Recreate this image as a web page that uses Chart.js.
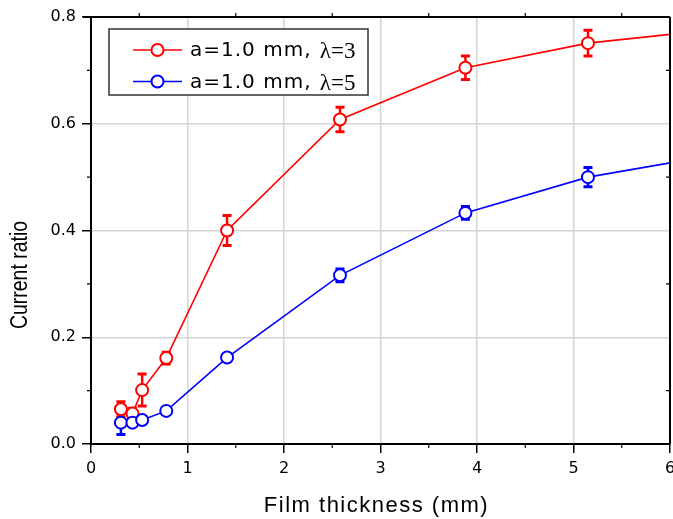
<!DOCTYPE html>
<html><head><meta charset="utf-8">
<script src="https://cdn.jsdelivr.net/npm/chart.js@4/dist/chart.umd.min.js"></script>
<style>html,body{margin:0;padding:0;background:#fff;}#wrap{width:673px;height:519px;}</style>
</head><body><div id="wrap"><canvas id="c" width="673" height="519"></canvas></div>
<script>
// ---- data ----
const thickness = [0.31, 0.43, 0.53, 0.78, 1.41, 2.58, 3.88, 5.15, 6.45];
const ratioLambda3 = [0.065, 0.057, 0.101, 0.161, 0.400, 0.608, 0.705, 0.751, 0.776];
const errLambda3   = [0.014, 0.010, 0.030, 0.011, 0.028, 0.023, 0.022, 0.024, 0];
const ratioLambda5 = [0.040, 0.040, 0.045, 0.062, 0.162, 0.316, 0.433, 0.500, 0.541];
const errLambda5   = [0.022, 0.006, 0.006, 0.006, 0.007, 0.012, 0.012, 0.018, 0];
const seriesLabels = ['a=1.0 mm, λ=3', 'a=1.0 mm, λ=5'];
const seriesColors = ['#ff0000', '#0000ff'];
const xTickValues = [0, 1, 2, 3, 4, 5, 6];
const yTickValues = [0, 0.2, 0.4, 0.6, 0.8];
const xTitle = 'Film thickness (mm)';
const yTitle = 'Current ratio';

function pts(xs, ys, es) { return xs.map((x, i) => ({x: x, y: ys[i], e: es[i]})); }

const errorBarPlugin = {
  id: 'errorBars',
  beforeDatasetsDraw(chart) {
    const {ctx, scales: {x, y}} = chart;
    chart.data.datasets.forEach((ds) => {
      ctx.save();
      ctx.strokeStyle = ds.borderColor;
      ds.data.forEach(p => {
        if (!p.e || p.x > x.max) return;
        const px = x.getPixelForValue(p.x);
        const yt = y.getPixelForValue(p.y + p.e);
        const yb = y.getPixelForValue(p.y - p.e);
        ctx.lineWidth = 2.5;
        ctx.beginPath(); ctx.moveTo(px, yt); ctx.lineTo(px, yb); ctx.stroke();
        ctx.lineWidth = 3;
        ctx.beginPath();
        ctx.moveTo(px - 4.5, yt); ctx.lineTo(px + 4.5, yt);
        ctx.moveTo(px - 4.5, yb); ctx.lineTo(px + 4.5, yb);
        ctx.stroke();
      });
      ctx.restore();
    });
  }
};

const framePlugin = {
  id: 'frame',
  beforeDraw(chart) {
    const ys = chart.scales.y;
    if (ys && !ys._patched) {
      const orig = ys.drawTitle.bind(ys);
      ys.drawTitle = function () {
        const c = this.ctx, mid = (this.top + this.bottom) / 2;
        c.save(); c.translate(0, 275); c.scale(1, 0.845); c.translate(0, -mid); orig(); c.restore();
      };
      ys._patched = true;
    }
    const xs = chart.scales.x;
    if (xs && !xs._patched) {
      const origx = xs.drawTitle.bind(xs);
      xs.drawTitle = function () {
        const c = this.ctx; c.save(); c.translate(-4, 0);
        if ('letterSpacing' in c) c.letterSpacing = '1.5px';
        origx(); c.restore();
      };
      xs._patched = true;
    }
  },
  afterDatasetsDraw(chart) {
    const {ctx, chartArea: a, scales: {x, y}} = chart;
    ctx.save();
    ctx.strokeStyle = '#000';
    ctx.lineWidth = 2;
    ctx.beginPath();
    ctx.moveTo(a.left - 8, a.top); ctx.lineTo(a.right, a.top);
    ctx.moveTo(a.right, a.top); ctx.lineTo(a.right, a.bottom);
    ctx.stroke();
    ctx.lineWidth = 1.2;
    ctx.beginPath();
    for (let v = 0.5; v < 6; v += 1) {
      const px = x.getPixelForValue(v);
      ctx.moveTo(px, a.bottom); ctx.lineTo(px, a.bottom + 4);
      ctx.moveTo(px, a.top); ctx.lineTo(px, a.top - 4);
    }
    for (let v = 0.1; v < 0.8; v += 0.2) {
      const py = y.getPixelForValue(v);
      ctx.moveTo(a.left, py); ctx.lineTo(a.left - 4, py);
      ctx.moveTo(a.right, py); ctx.lineTo(a.right - 4, py);
    }
    ctx.stroke();
    ctx.restore();

    // legend
    const bx = 109, by = 29, bw = 259, bh = 66;
    ctx.save();
    ctx.fillStyle = '#fff';
    ctx.fillRect(bx, by, bw, bh);
    ctx.strokeStyle = '#333';
    ctx.lineWidth = 1.5;
    ctx.strokeRect(bx, by, bw, bh);
    chart.data.datasets.forEach((ds, i) => {
      const ly = 50 + i * 31.5;
      ctx.strokeStyle = ds.borderColor;
      ctx.lineWidth = 1.5;
      ctx.beginPath(); ctx.moveTo(133, ly); ctx.lineTo(182, ly); ctx.stroke();
      ctx.fillStyle = '#fff';
      ctx.lineWidth = 2;
      ctx.beginPath(); ctx.arc(157.5, ly, 6, 0, Math.PI * 2); ctx.fill(); ctx.stroke();
      const label = ds.label;
      const k = label.indexOf('λ');
      const head = k >= 0 ? label.slice(0, k) : label;
      const tail = k >= 0 ? label.slice(k) : '';
      ctx.fillStyle = '#000';
      ctx.textBaseline = 'middle';
      ctx.textAlign = 'left';
      ctx.font = '20px "DejaVu Sans", sans-serif';
      if ('letterSpacing' in ctx) ctx.letterSpacing = '1px';
      ctx.fillText(head, 190, ly + 1);
      const w = ctx.measureText(head).width;
      if ('letterSpacing' in ctx) ctx.letterSpacing = '0px';
      ctx.font = '23px "Liberation Serif", "DejaVu Serif", serif';
      ctx.fillText(tail, 190 + w + 1, ly + 2);
    });
    ctx.restore();
  }
};

const chart = new Chart(document.getElementById('c'), {
  type: 'scatter',
  data: {
    datasets: [
      {label: seriesLabels[0], data: pts(thickness, ratioLambda3, errLambda3), order: 2,
       borderColor: seriesColors[0], pointBorderColor: seriesColors[0]},
      {label: seriesLabels[1], data: pts(thickness, ratioLambda5, errLambda5), order: 1,
       borderColor: seriesColors[1], pointBorderColor: seriesColors[1]}
    ].map(d => Object.assign(d, {
      showLine: true, borderWidth: 1.6, tension: 0,
      pointRadius: 6, pointHoverRadius: 6, pointBorderWidth: 2, pointBackgroundColor: '#fff',
      clip: {left: 12, top: 12, right: 0, bottom: 12}
    }))
  },
  options: {
    responsive: false,
    devicePixelRatio: 1,
    animation: false,
    events: [],
    layout: {autoPadding: false, padding: {top: 17, right: 3, left: 0, bottom: 0}},
    plugins: {legend: {display: false}, tooltip: {enabled: false}},
    scales: {
      x: {
        type: 'linear', min: 0, max: 6,
        afterBuildTicks: s => { s.ticks = xTickValues.map(v => ({value: v})); },
        afterFit: s => { s.height = 75; s.paddingLeft = 0; s.paddingRight = 0; },
        grid: {color: '#d4d4d4', lineWidth: 1.5, tickColor: '#000', tickLength: 9, tickWidth: 1.5},
        border: {display: true, color: '#000', width: 2},
        ticks: {color: '#000', padding: 6, maxRotation: 0, autoSkip: false,
                font: {family: '"DejaVu Sans", sans-serif', size: 16},
                callback: v => String(v)},
        title: {display: true, text: xTitle, color: '#000', padding: {top: 0, bottom: 0},
                font: {family: '"Liberation Sans", Arial, sans-serif', size: 22}}
      },
      y: {
        type: 'linear', min: 0, max: 0.8,
        afterBuildTicks: s => { s.ticks = yTickValues.map(v => ({value: v})); },
        afterFit: s => { s.width = 91; s.paddingTop = 0; s.paddingBottom = 0; },
        grid: {color: '#d4d4d4', lineWidth: 1.5, tickColor: '#000', tickLength: 9, tickWidth: 1.5},
        border: {display: true, color: '#000', width: 2},
        ticks: {color: '#000', padding: 6, autoSkip: false,
                font: {family: '"DejaVu Sans", sans-serif', size: 16},
                callback: v => Number(v).toFixed(1)},
        title: {display: true, text: yTitle, color: '#000', padding: {top: 7, bottom: 0},
                font: {family: '"Liberation Sans", Arial, sans-serif', size: 23}}
      }
    }
  },
  plugins: [errorBarPlugin, framePlugin]
});
</script>
</body></html>
